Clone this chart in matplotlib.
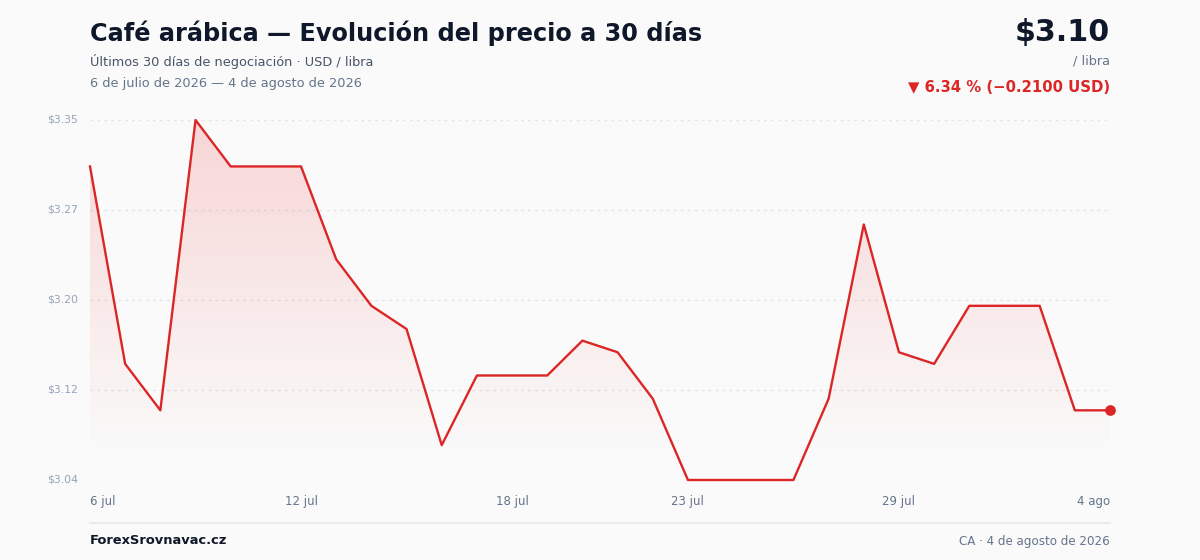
"""Café arábica: 30-day price chart."""

import matplotlib.pyplot as plt
import numpy as np
from matplotlib.path import Path as MplPath
from matplotlib.patches import PathPatch

plt.rcParams["font.family"] = ["DejaVu Sans"]

DAYS = list(range(30))
PRICES = [
    3.31, 3.14, 3.10, 3.35, 3.31, 3.31, 3.31, 3.23, 3.19, 3.17,
    3.07, 3.13, 3.13, 3.13, 3.16, 3.15, 3.11, 3.04, 3.04, 3.04,
    3.04, 3.11, 3.26, 3.15, 3.14, 3.19, 3.19, 3.19, 3.10, 3.10,
]
TICK_DAYS = [0, 6, 12, 17, 23, 29]
TICK_LABELS = ["6 jul", "12 jul", "18 jul", "23 jul", "29 jul", "4 ago"]
Y_MIN, Y_MAX = 3.04, 3.35

RED = "#dc2626"
BG = "#fafafa"

first, last = PRICES[0], PRICES[-1]
change = last - first
pct = change / first * 100

fig = plt.figure(figsize=(12, 5.6), dpi=100, facecolor=BG)
ax = fig.add_axes([0.075, 1 - 480 / 560, 0.85, 360 / 560])
ax.set_facecolor(BG)
ax.set_xlim(DAYS[0], DAYS[-1])
ax.set_ylim(Y_MIN, Y_MAX)

# gradient area under the line
verts = [(DAYS[0], Y_MIN)] + list(zip(DAYS, PRICES)) + [(DAYS[-1], Y_MIN), (DAYS[0], Y_MIN)]
codes = [MplPath.MOVETO] + [MplPath.LINETO] * (len(verts) - 2) + [MplPath.CLOSEPOLY]
clip = PathPatch(MplPath(verts, codes), facecolor="none", edgecolor="none")
ax.add_patch(clip)
grad = np.zeros((200, 2, 4))
grad[..., :3] = (239 / 255, 68 / 255, 68 / 255)
grad[..., 3] = np.linspace(0.2, 0.0, 200)[:, None]
img = ax.imshow(grad, extent=[DAYS[0], DAYS[-1], Y_MIN + 0.02, Y_MAX],
                aspect="auto", origin="upper", zorder=1, interpolation="bilinear")
img.set_clip_path(clip)

ax.plot(DAYS, PRICES, color=RED, linewidth=1.7, zorder=3, clip_on=False)
ax.scatter([DAYS[-1]], [PRICES[-1]], s=45, color=RED, zorder=4, clip_on=False)

yticks = np.linspace(Y_MIN, Y_MAX, 5)
for y in yticks:
    ax.axhline(y, color="#e2e5ea", linewidth=1.0, linestyle=(0, (2, 3)), zorder=0)
    ax.text(-0.012, y, f"${y:.2f}", transform=ax.get_yaxis_transform(),
            ha="right", va="center", fontsize=7.8, color="#94a3b8")

for d, lab in zip(TICK_DAYS, TICK_LABELS):
    ha = "left" if d == DAYS[0] else ("right" if d == DAYS[-1] else "center")
    ax.text(d, -0.061, lab, transform=ax.get_xaxis_transform(),
            ha=ha, va="center", fontsize=8.5, color="#64748b")

ax.set_xticks([])
ax.set_yticks([])
for s in ax.spines.values():
    s.set_visible(False)

# header
fig.text(90 / 1200, 1 - 33 / 560, "Café arábica — Evolución del precio a 30 días",
         fontsize=17.25, fontweight="bold", color="#0f172a", ha="left", va="center")
fig.text(90 / 1200, 1 - 61 / 560, "Últimos 30 días de negociación · USD / libra",
         fontsize=9.3, color="#475569", ha="left", va="center")
fig.text(90 / 1200, 1 - 83 / 560, "6 de julio de 2026 — 4 de agosto de 2026",
         fontsize=9.3, color="#64748b", ha="left", va="center")

fig.text(1110 / 1200, 1 - 32 / 560, f"${last:.2f}", fontsize=21.7, fontweight="bold",
         color="#0f172a", ha="right", va="center")
fig.text(1110 / 1200, 1 - 61 / 560, "/ libra", fontsize=9.3, color="#64748b",
         ha="right", va="center")
fig.text(1110 / 1200, 1 - 87 / 560,
         f"▼ {abs(pct):.2f} % (−{abs(change):.4f} USD)",
         fontsize=10.75, fontweight="bold", color=RED, ha="right", va="center")

# footer
fig.add_artist(plt.Line2D([90 / 1200, 1110 / 1200], [1 - 523 / 560] * 2,
                          color="#e5e7eb", linewidth=1.2, transform=fig.transFigure))
fig.text(90 / 1200, 1 - 541 / 560, "ForexSrovnavac.cz", fontsize=9.4, fontweight="bold",
         color="#0f172a", ha="left", va="center")
fig.text(1110 / 1200, 1 - 541 / 560, "CA · 4 de agosto de 2026", fontsize=8.6,
         color="#64748b", ha="right", va="center")

fig.savefig("out.png", dpi=100, facecolor=BG)
